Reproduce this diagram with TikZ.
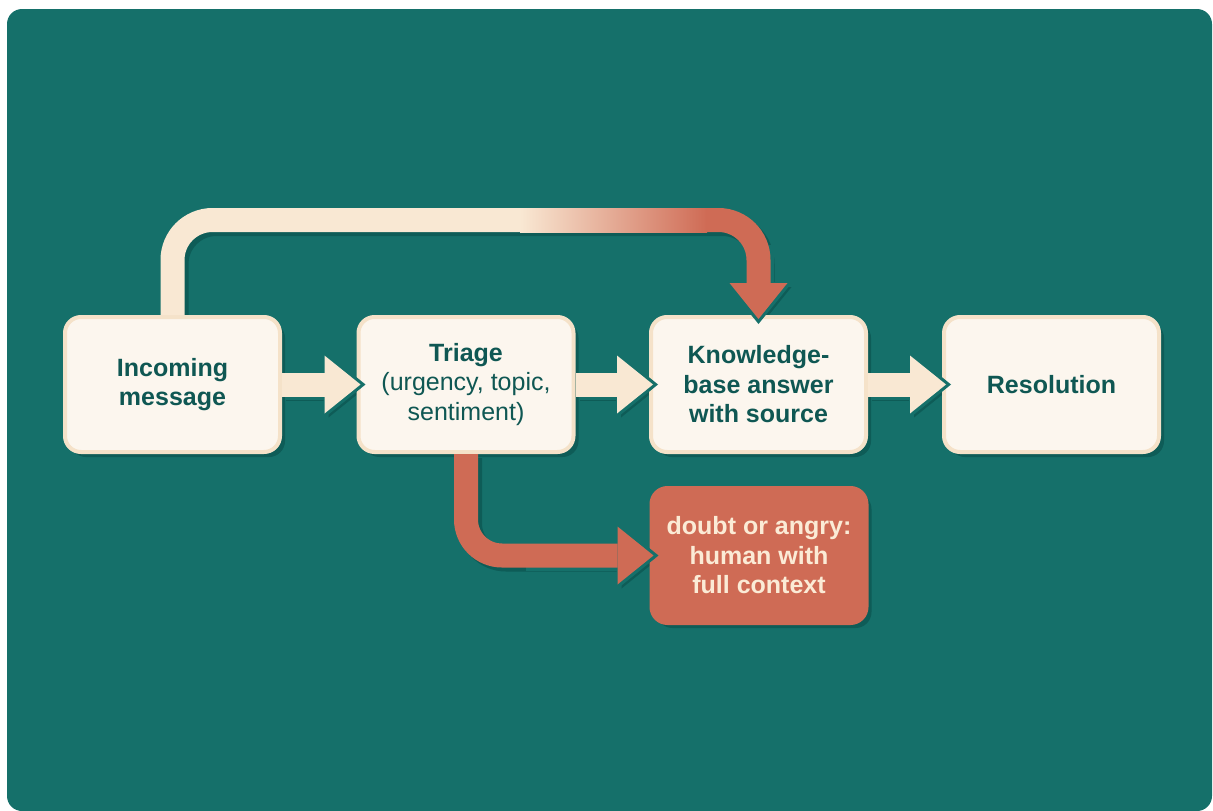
\documentclass[tikz,border=0pt]{standalone}
\usepackage{fontspec}
\setmainfont{Liberation Sans}
\usetikzlibrary{arrows.meta,calc,shadows}

\definecolor{teal0}{HTML}{15706A}
\definecolor{tealshadow}{HTML}{0E5C57}
\definecolor{cream}{HTML}{FCF6EE}
\definecolor{creamedge}{HTML}{F5E2C9}
\definecolor{creamarrow}{HTML}{F9E8D3}
\definecolor{terra}{HTML}{CF6B55}
\definecolor{ink}{HTML}{0F5753}
\definecolor{lightink}{HTML}{FBEBD6}

\pgfdeclarelayer{bg}
\pgfsetlayers{bg,main}

\begin{document}
\begin{tikzpicture}[x=1pt,y=-1pt,
  box/.style={rounded corners=16pt, minimum width=215pt, minimum height=135pt,
    inner sep=0pt, align=center, font=\fontsize{25}{29.5}\selectfont\bfseries,
    text=ink, fill=cream, draw=creamedge, line width=4pt,
    drop shadow={shadow xshift=5pt, shadow yshift=-5pt, fill=tealshadow, opacity=1}},
  alertbox/.style={box, fill=terra, draw=terra, text=lightink},
  flowcream/.style={line width=24pt, creamarrow,
    -{Triangle[width=58pt,length=36pt,line width=0pt]}},
  flowterra/.style={line width=24pt, terra,
    -{Triangle[width=58pt,length=36pt,line width=0pt]}},
  flowrim/.style={line width=30pt, teal0,
    -{Triangle[width=68pt,length=42pt,line width=0pt]}},
  flowshadow/.style={line width=24pt, tealshadow,
    -{Triangle[width=58pt,length=36pt,line width=0pt]},
    transform canvas={shift={(4,4)}}},
]
\useasboundingbox (0,0) rectangle (1213,811);

% canvas
\begin{pgfonlayer}{bg}
  \fill[teal0, rounded corners=15pt] (7,9) rectangle (1212,811);
\end{pgfonlayer}

% process boxes
\node[box] (in) at (172.5,384.5) {Incoming\\message};
\node[box] (tr) at (466,384.5) {Triage\\{\mdseries (urgency, topic,}\\{\mdseries sentiment)}};
\node[box] (kb) at (758.5,384.5) {Knowledge-\\base answer\\with source};
\node[box] (re) at (1051.5,384.5) {Resolution};
\node[alertbox] (hu) at (759,555.5) {doubt or angry:\\human with\\full context};

% helper points
\coordinate (ty) at (0,220);
\coordinate (g1) at (520,220);
\coordinate (g2) at (706,220);

% shadows of the connectors
\begin{pgfonlayer}{bg}
  \draw[flowshadow] (in.east) -- ($(tr.west)+(4,0)$);
  \draw[flowshadow] (tr.east) -- ($(kb.west)+(4,0)$);
  \draw[flowshadow] (kb.east) -- ($(re.west)+(4,0)$);
  \draw[flowshadow, rounded corners=40pt] (in.north) -- (in.north |- ty) -- (kb.north |- ty) -- ($(kb.north)+(0,4)$);
  \draw[flowshadow, rounded corners=36pt] (tr.south) -- (tr.south |- hu.west) -- ($(hu.west)+(4,0)$);
\end{pgfonlayer}

% straight connectors
\draw[flowrim] ($(in.east)+(3,0)$) -- ($(tr.west)+(9,0)$);
\draw[flowcream] (in.east) -- ($(tr.west)+(4,0)$);
\draw[flowrim] ($(tr.east)+(3,0)$) -- ($(kb.west)+(9,0)$);
\draw[flowcream] (tr.east) -- ($(kb.west)+(4,0)$);
\draw[flowrim] ($(kb.east)+(3,0)$) -- ($(re.west)+(9,0)$);
\draw[flowcream] (kb.east) -- ($(re.west)+(4,0)$);

% bypass loop over the triage step
\draw[line width=24pt, creamarrow, rounded corners=40pt] (in.north) -- (in.north |- ty) -- ($(g1)+(1,0)$);
\shade[left color=creamarrow, right color=terra] ($(g1)+(0,-12)$) rectangle ($(g2)+(1,12)$);
\draw[flowrim, rounded corners=40pt] ($(kb.north)+(0,-70)$) -- ($(kb.north)+(0,9)$);
\draw[flowterra, rounded corners=40pt] (g2) -- (kb.north |- ty) -- ($(kb.north)+(0,4)$);

% escalation branch
\draw[flowrim] ($(tr.south |- hu.west)+(60,0)$) -- ($(hu.west)+(9,0)$);
\draw[flowterra, rounded corners=36pt] (tr.south) -- (tr.south |- hu.west) -- ($(hu.west)+(4,0)$);
\end{tikzpicture}
\end{document}
